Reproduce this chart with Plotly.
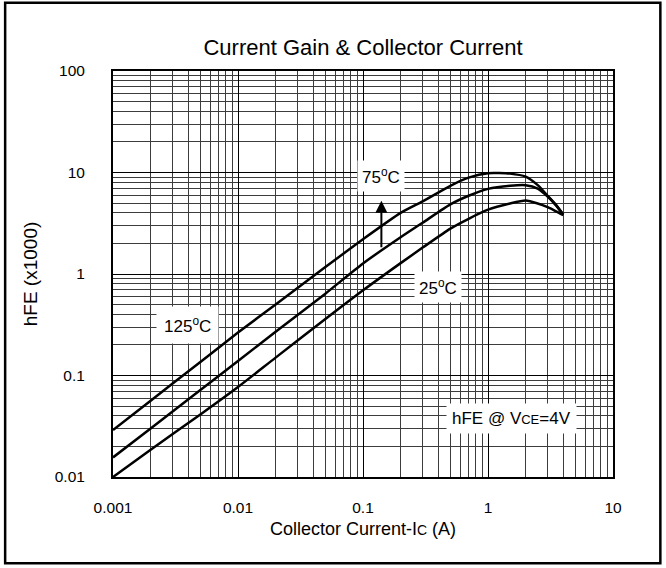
import plotly.graph_objects as go

# ---- data ----
ic = [0.001, 0.002, 0.005, 0.01, 0.02, 0.05, 0.1, 0.2, 0.3, 0.5, 0.7, 1.0, 1.5, 2.0, 2.5, 3.0, 3.5, 4.0]
hfe_125 = [0.029, 0.0565, 0.136, 0.265, 0.50, 1.17, 2.2, 4.0, 5.2, 7.4, 8.9, 9.85, 9.75, 9.1, 7.5, 5.9, 4.8, 3.85]
hfe_75 = [0.0156, 0.030, 0.072, 0.139, 0.27, 0.64, 1.27, 2.3, 3.2, 4.85, 5.9, 6.9, 7.4, 7.5, 6.95, 5.8, 4.75, 3.85]
hfe_25 = [0.010, 0.0186, 0.0413, 0.077, 0.15, 0.36, 0.69, 1.28, 1.82, 2.8, 3.5, 4.3, 4.95, 5.3, 4.95, 4.55, 4.15, 3.8]

x_ticks = [0.001, 0.01, 0.1, 1, 10]
x_ticktext = ["0.001", "0.01", "0.1", "1", "10"]
y_ticks = [0.01, 0.1, 1, 10, 100]
y_ticktext = ["0.01", "0.1", "1", "10", "100"]

title_text = "Current Gain &amp; Collector Current"
x_title = "Collector Current-I<span style='font-size:14px'>C</span> (A)"
y_title = "hFE (x1000)"
label_125 = "125<sup>o</sup>C"
label_75 = "75<sup>o</sup>C"
label_25 = "25<sup>o</sup>C"
cond_text = "hFE @ V<span style='font-size:13px'>CE</span>=4V"

# label anchor positions (log10 units of the axes)
pos_125 = (-2.406, -0.507)
pos_75 = (-0.860, 0.970)
pos_25 = (-0.401, -0.127)
pos_cond = (0.190, -1.424)
arrow_x = -0.853
arrow_from = 0.248
arrow_to = 0.722

FONT = "Liberation Sans, Arial, sans-serif"

fig = go.Figure()
for name, ys in [("125°C", hfe_125), ("75°C", hfe_75), ("25°C", hfe_25)]:
    fig.add_trace(go.Scatter(x=ic, y=ys, mode="lines", name=name,
                             line=dict(color="black", width=2.5, shape="spline", smoothing=0.6),
                             showlegend=False, hoverinfo="skip"))

def label(pos, text, pad):
    return dict(x=pos[0], y=pos[1], text=text, borderpad=pad, xref="x", yref="y",
                showarrow=False, bgcolor="white",
                font=dict(family=FONT, size=17, color="black"))

annotations = [
    label(pos_125, label_125, 7),
    label(pos_75, label_75, 4),
    label(pos_25, label_25, 4),
    label(pos_cond, cond_text, 5),
    dict(x=arrow_x, y=arrow_to, ax=arrow_x, ay=arrow_from, xref="x", yref="y",
         axref="x", ayref="y", text="", showarrow=True, arrowhead=2,
         arrowsize=1.2, arrowwidth=2, arrowcolor="black"),
]

axis_common = dict(
    type="log", showline=True, linecolor="black", linewidth=2, mirror=True,
    showgrid=True, gridcolor="black", gridwidth=1, zeroline=False,
    ticks="outside", tickcolor="rgba(0,0,0,0)",
    tickfont=dict(family=FONT, size=15.5, color="black"),
    minor=dict(dtick="D1", showgrid=True, gridcolor="#3c3c3c", gridwidth=1, ticks=""),
)

fig.update_layout(
    width=666, height=568,
    margin=dict(l=113, r=53, t=71, b=91, autoexpand=False),
    paper_bgcolor="white", plot_bgcolor="white",
    font=dict(family=FONT, color="black"),
    title=dict(text=title_text, x=0.5, xref="paper", xanchor="center",
               y=1 - 47 / 568, yref="container", yanchor="middle",
               font=dict(family=FONT, size=22, color="black")),
    xaxis=dict(range=[-3, 1], tickvals=x_ticks, ticktext=x_ticktext, ticklen=15,
               title=dict(text=x_title, standoff=8, font=dict(family=FONT, size=18, color="black")),
               **axis_common),
    yaxis=dict(range=[-2, 2], tickvals=y_ticks, ticktext=y_ticktext, ticklen=23,
               title=dict(text=y_title, standoff=12, font=dict(family=FONT, size=19, color="black")),
               **axis_common),
    annotations=annotations,
    shapes=[dict(type="rect", xref="paper", yref="paper",
                 x0=-0.2157, x1=1.0947, y0=-0.2123, y1=1.1679,
                 line=dict(color="black", width=2.5), fillcolor="rgba(0,0,0,0)", layer="above")],
)

fig.write_html("out.html", config={"displayModeBar": False},
               post_script="document.body.style.margin='0';document.body.style.overflow='hidden';")
